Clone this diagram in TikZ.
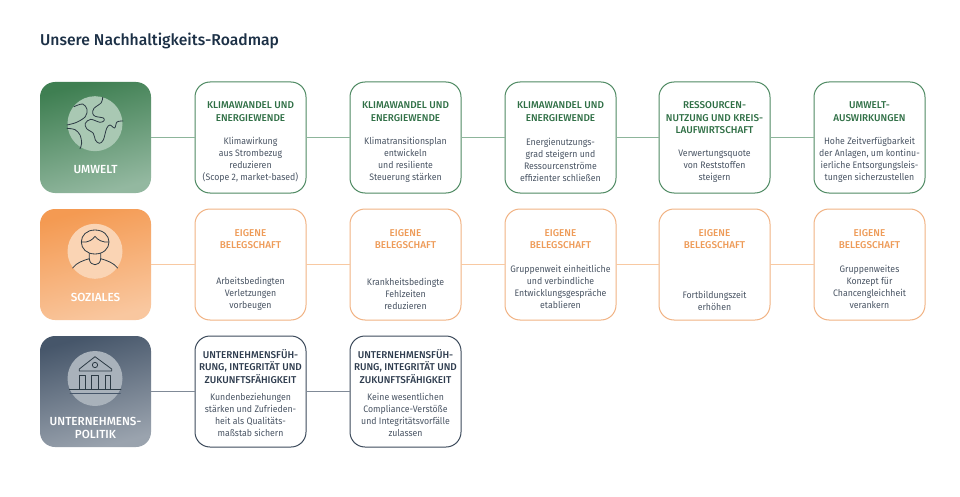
\documentclass[tikz,border=0pt]{standalone}
\usepackage{fontspec}
\setmainfont{Fira Sans}[FakeStretch=0.93]
\newfontfamily\medfont{Fira Sans Medium}
\definecolor{gA}{HTML}{3F7F52}\definecolor{gB}{HTML}{93B8A0}\definecolor{gC}{HTML}{A9C8B3}\definecolor{gL}{HTML}{8DB59B}\definecolor{gE}{HTML}{4F8A63}\definecolor{gT}{HTML}{2F6F45}
\definecolor{oA}{HTML}{F49A52}\definecolor{oB}{HTML}{F9C79F}\definecolor{oC}{HTML}{FAD4B4}\definecolor{oL}{HTML}{F8C9A2}\definecolor{oE}{HTML}{F1B384}\definecolor{oT}{HTML}{EE9B58}
\definecolor{dA}{HTML}{46566A}\definecolor{dB}{HTML}{9AA3AE}\definecolor{dC}{HTML}{A9B2BB}\definecolor{dL}{HTML}{808A97}\definecolor{dE}{HTML}{3C4A5B}\definecolor{dT}{HTML}{2E3C4E}
\definecolor{bodyc}{HTML}{4B5665}\definecolor{titlec}{HTML}{1C3046}\definecolor{iconc}{HTML}{2C3A44}
\tikzset{
 cat/.style={minimum width=111pt,minimum height=111pt,inner sep=0pt,outer sep=0pt,rounded corners=15pt},
 card/.style={cat,draw=#1,line width=1pt,fill=white},
 conn/.style={draw=#1,line width=1.8pt},
 head/.style={font=\medfont\fontsize{9.9}{12.5}\selectfont,align=center,inner sep=0pt,text=#1,yshift=-0.7pt},
 txt/.style={font=\fontsize{9.4}{12}\selectfont,align=center,inner sep=0pt,text=bodyc,yshift=-0.7pt},
 catlabel/.style={font=\medfont\fontsize{11.7}{12.6}\selectfont,align=center,inner sep=0pt,text=white},
 disc/.style={circle,minimum size=55pt,inner sep=0pt,outer sep=0pt,fill=#1},
 icon/.style={draw=iconc,line width=0.8pt,line cap=round,line join=round}
}
\begin{document}
\begin{tikzpicture}[x=1pt,y=-1pt]
\useasboundingbox (0,0) rectangle (960,497);
\fill[white] (0,0) rectangle (960,497);
\node[anchor=west,inner sep=0pt,text=titlec,font=\medfont\fontsize{15.7}{18}\selectfont] (maintitle) at (40,41.3) {Unsere Nachhaltigkeits-Roadmap};

% category tiles
\node[cat,top color=gA,bottom color=gB,shading angle=15] (um) at (95.5,137.5) {};
\node[cat,top color=oA,bottom color=oB,shading angle=15] (so) at (95.5,264.5) {};
\node[cat,top color=dA,bottom color=dB,shading angle=15] (un) at (95.5,391.5) {};

% cards row 1
\node[card=gE] (a1) at (250.5,137.5) {};
\node[card=gE] (a2) at (405.5,137.5) {};
\node[card=gE] (a3) at (560.5,137.5) {};
\node[card=gE] (a4) at (714.5,137.5) {};
\node[card=gE] (a5) at (869.5,137.5) {};
% cards row 2
\node[card=oE] (b1) at (250.5,264.5) {};
\node[card=oE] (b2) at (405.5,264.5) {};
\node[card=oE] (b3) at (560.5,264.5) {};
\node[card=oE] (b4) at (714.5,264.5) {};
\node[card=oE] (b5) at (869.5,264.5) {};
% cards row 3
\node[card=dE] (c1) at (250.5,391.5) {};
\node[card=dE] (c2) at (405.5,391.5) {};

% connectors
\draw[conn=gL] (um) -- (a1);\draw[conn=gL] (a1) -- (a2);\draw[conn=gL] (a2) -- (a3);\draw[conn=gL] (a3) -- (a4);\draw[conn=gL] (a4) -- (a5);
\draw[conn=oL] (so) -- (b1);\draw[conn=oL] (b1) -- (b2);\draw[conn=oL] (b2) -- (b3);\draw[conn=oL] (b3) -- (b4);\draw[conn=oL] (b4) -- (b5);
\draw[conn=dL] (un) -- (c1);\draw[conn=dL] (c1) -- (c2);

% tile labels
\node[catlabel] (uml) at (95.5,169.5) {UMWELT};
\node[catlabel] (sol) at (95.5,297) {SOZIALES};
\node[catlabel] (unl) at (95.5,428) {UNTERNEHMENS-\\POLITIK};

% discs
\node[disc=gC] (g) at (95,123.7) {};
\node[disc=oC] (p) at (95,251.3) {};
\node[disc=dC] (h) at (95,378.5) {};

% globe
\begin{scope}[shift={(60,90)},x=0.3333pt,y=-0.3333pt]
\draw[icon] plot[smooth,tension=0.55] coordinates {(128,22)(124,38)(102,55)(98,70)(106,79)(130,84)(132,92)(120,97)(92,88)(76,100)(80,116)(100,130)(106,150)(118,160)(130,150)(140,115)(150,105)(164,114)(171,96)(189,93)};
\draw[icon] plot[smooth,tension=0.55] coordinates {(42,50)(68,42)(81,58)(76,80)(50,97)(21,105)};
\draw[icon] plot[smooth,tension=0.55] coordinates {(21,115)(45,119)(60,135)(65,160)(60,176)};
\end{scope}

% person
\begin{scope}[shift={(60,218)},x=0.3333pt,y=-0.3333pt]
\draw[icon] (105,36) .. controls (130,36) and (147,52) .. (147,72) .. controls (147,92) and (130,108) .. (105,108) .. controls (80,108) and (64,92) .. (64,72) .. controls (64,52) and (80,36) .. (105,36) -- cycle;
\draw[icon] (66,72) .. controls (85,74) and (97,66) .. (105,55) .. controls (113,66) and (128,74) .. (146,72);
\draw[icon] (88,106) -- (88,123) .. controls (90,146) and (120,146) .. (122,123) -- (122,106);
\draw[icon] (38,150) .. controls (50,134) and (68,128) .. (88,122);
\draw[icon] (122,122) .. controls (142,128) and (160,134) .. (173,150);
\end{scope}

% building
\begin{scope}[shift={(60,345)},x=0.3333pt,y=-0.3333pt]
\draw[icon] (105,35) -- (155,72) -- (155,78) -- (58,78) -- (58,72) -- cycle;
\draw[icon] (105,60) circle[radius=8];
\draw[icon] (58,133) -- (58,92) -- (76,92) -- (76,133) -- (95,133) -- (95,92) -- (115,92) -- (115,133) -- (135,133) -- (135,92) -- (152,92) -- (152,133);
\draw[icon] (28,133) -- (183,133);
\draw[icon,draw=dA] (30,146) -- (181,146);
\end{scope}

% row 1 texts
\node[head=gT] (a1h) at (250.5,111) {KLIMAWANDEL UND\\ENERGIEWENDE};
\node[txt] (a1t) at (250.5,159) {Klimawirkung\\aus Strombezug\\reduzieren\\(Scope 2, market-based)};
\node[head=gT] (a2h) at (405.5,111) {KLIMAWANDEL UND\\ENERGIEWENDE};
\node[txt] (a2t) at (405.5,159) {Klimatransitionsplan\\entwickeln\\und resiliente\\Steuerung stärken};
\node[head=gT] (a3h) at (560.5,111) {KLIMAWANDEL UND\\ENERGIEWENDE};
\node[txt] (a3t) at (560.5,159) {Energienutzungs-\\grad steigern und\\Ressourcenströme\\effizienter schließen};
\node[head=gT] (a4h) at (714.5,117) {RESSOURCEN-\\NUTZUNG UND KREIS-\\LAUFWIRTSCHAFT};
\node[txt] (a4t) at (714.5,166) {Verwertungsquote\\von Reststoffen\\steigern};
\node[head=gT] (a5h) at (869.5,111) {UMWELT-\\AUSWIRKUNGEN};
\node[txt] (a5t) at (869.5,159) {Hohe Zeitverfügbarkeit\\der Anlagen, um kontinu-\\ierliche Entsorgungsleis-\\tungen sicherzustellen};

% row 2 texts
\node[head=oT] (b1h) at (250.5,238.5) {EIGENE\\BELEGSCHAFT};
\node[txt] (b1t) at (250.5,293.5) {Arbeitsbedingten\\Verletzungen\\vorbeugen};
\node[head=oT] (b2h) at (405.5,238.5) {EIGENE\\BELEGSCHAFT};
\node[txt] (b2t) at (405.5,293.5) {Krankheitsbedingte\\Fehlzeiten\\reduzieren};
\node[head=oT] (b3h) at (560.5,238.5) {EIGENE\\BELEGSCHAFT};
\node[txt] (b3t) at (560.5,286) {Gruppenweit einheitliche\\und verbindliche\\Entwicklungsgespräche\\etablieren};
\node[head=oT] (b4h) at (714.5,238.5) {EIGENE\\BELEGSCHAFT};
\node[txt] (b4t) at (714.5,300.5) {Fortbildungszeit\\erhöhen};
\node[head=oT] (b5h) at (869.5,238.5) {EIGENE\\BELEGSCHAFT};
\node[txt] (b5t) at (869.5,286) {Gruppenweites\\Konzept für\\Chancengleichheit\\verankern};

% row 3 texts
\node[head=dT] (c1h) at (250.5,365.7) {UNTERNEHMENSFÜH-\\RUNG, INTEGRITÄT UND\\ZUKUNFTSFÄHIGKEIT};
\node[txt] (c1t) at (250.5,413.8) {Kundenbeziehungen\\stärken und Zufrieden-\\heit als Qualitäts-\\maßstab sichern};
\node[head=dT] (c2h) at (405.5,365.7) {UNTERNEHMENSFÜH-\\RUNG, INTEGRITÄT UND\\ZUKUNFTSFÄHIGKEIT};
\node[txt] (c2t) at (405.5,413.8) {Keine wesentlichen\\Compliance-Verstöße\\und Integritätsvorfälle\\zulassen};
\end{tikzpicture}
\end{document}
